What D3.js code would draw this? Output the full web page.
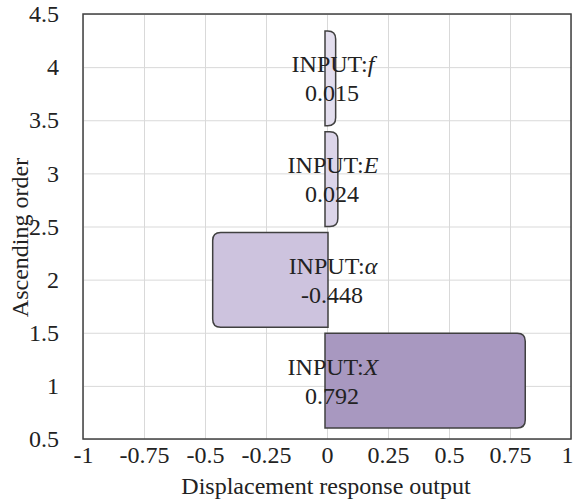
<!DOCTYPE html>
<html lang="en">
<head>
    <meta charset="UTF-8">
    <title>Displacement response output</title>
    <script src="https://d3js.org/d3.v7.min.js"></script>
    <style>
        body {
            margin: 0;
            background: #fff;
        }

        svg text {
            font-family: 'Liberation Serif', 'Times New Roman', serif;
            font-size: 24px;
            fill: #222;
        }

        .grid line {
            stroke: #d9d9d9;
            stroke-width: 1px;
        }

        .grid path {
            display: none;
        }

        .axis path, .axis line {
            display: none;
        }

        .bar {
            stroke: #404040;
            stroke-width: 1.5px;
        }
    </style>
</head>
<body>
    <div id="chart"></div>
    <script>
        // inputs, in ascending order (bottom to top)
        const inputs = ["X", "α", "E", "f"];
        const orders = [1, 2, 3, 4];
        const values = [0.792, -0.448, 0.024, 0.015];
        const fills = ["#a898c0", "#cdc3de", "#dcd5e9", "#e3deee"];

        const xTicks = [-1, -0.75, -0.5, -0.25, 0, 0.25, 0.5, 0.75, 1];
        const yTicks = [0.5, 1, 1.5, 2, 2.5, 3, 3.5, 4, 4.5];

        const W = 575, H = 504;
        const margin = { top: 14, right: 4, bottom: 65, left: 83 };
        const width = W - margin.left - margin.right;
        const height = H - margin.top - margin.bottom;

        const x = d3.scaleLinear().domain([-1, 1]).range([0, width]);
        const y = d3.scaleLinear().domain([0.5, 4.5]).range([height, 0]);
        // the bars sit on a slightly tighter vertical scale than the axis
        const yBar = d3.scaleLinear().domain([0.5, 4.5]).range([height - 8, 14]);
        const barH = (yBar(0.5) - yBar(1.5)) * 0.94;
        const pad = 5;

        // plain hyphen for negatives, like the original
        const fmt = d => String(d);

        const svg = d3.select("#chart").append("svg")
            .attr("width", W)
            .attr("height", H)
            .append("g")
            .attr("transform", `translate(${margin.left},${margin.top})`);

        // grid
        svg.append("g")
            .attr("class", "grid")
            .call(d3.axisLeft(y).tickValues(yTicks).tickSize(-width).tickFormat(""));
        svg.append("g")
            .attr("class", "grid")
            .attr("transform", `translate(0,${height})`)
            .call(d3.axisBottom(x).tickValues(xTicks).tickSize(-height).tickFormat(""));

        // bars, rounded only at the far end
        function barPath(v, cy) {
            const x0 = x(0) - (v >= 0 ? 2 : -1);
            const x1 = x(v) + (v >= 0 ? pad : -pad);
            const top = cy - barH / 2, bot = cy + barH / 2;
            const r = Math.min(8, Math.abs(x1 - x0) * 0.9);
            const s = v >= 0 ? 1 : -1;
            const p = d3.path();
            p.moveTo(x0, top);
            p.lineTo(x1 - s * r, top);
            p.quadraticCurveTo(x1, top, x1, top + r);
            p.lineTo(x1, bot - r);
            p.quadraticCurveTo(x1, bot, x1 - s * r, bot);
            p.lineTo(x0, bot);
            p.closePath();
            return p.toString();
        }

        svg.selectAll(".bar")
            .data(orders)
            .enter()
            .append("path")
            .attr("class", "bar")
            .attr("fill", (d, i) => fills[i])
            .attr("d", (d, i) => barPath(values[i], yBar(d)));

        // labels
        const labels = svg.selectAll(".lbl")
            .data(orders)
            .enter()
            .append("text")
            .attr("class", "lbl")
            .attr("text-anchor", "middle");

        labels.append("tspan")
            .attr("x", x(0) + 6)
            .attr("y", d => yBar(d) - 6)
            .text("INPUT:")
            .append("tspan")
            .style("font-style", "italic")
            .text((d, i) => inputs[i]);

        labels.append("tspan")
            .attr("x", x(0) + 5)
            .attr("y", d => yBar(d) + 23)
            .text((d, i) => values[i].toFixed(3));

        // frame
        svg.append("rect")
            .attr("width", width)
            .attr("height", height)
            .attr("fill", "none")
            .attr("stroke", "#404040")
            .attr("stroke-width", 1.5);

        // axes
        svg.append("g")
            .attr("class", "axis")
            .attr("transform", `translate(0,${height})`)
            .call(d3.axisBottom(x).tickValues(xTicks).tickSize(0).tickPadding(0).tickFormat(fmt))
            .call(g => g.selectAll("text")
                .attr("y", 24).attr("dy", 0).attr("fill", "#222")
                .attr("x", d => d === 1 ? -4 : 0));

        svg.append("g")
            .attr("class", "axis")
            .call(d3.axisLeft(y).tickValues(yTicks).tickSize(0).tickFormat(fmt))
            .call(g => g.selectAll("text").attr("x", -24).attr("dy", "0.32em").attr("fill", "#222"));

        svg.append("text")
            .attr("x", x(0) - 1)
            .attr("y", height + 55)
            .attr("text-anchor", "middle")
            .text("Displacement response output");

        svg.append("text")
            .attr("transform", `translate(${28 - margin.left},${y(2.5) + 11}) rotate(-90)`)
            .attr("text-anchor", "middle")
            .text("Ascending order");
    </script>
</body>
</html>
